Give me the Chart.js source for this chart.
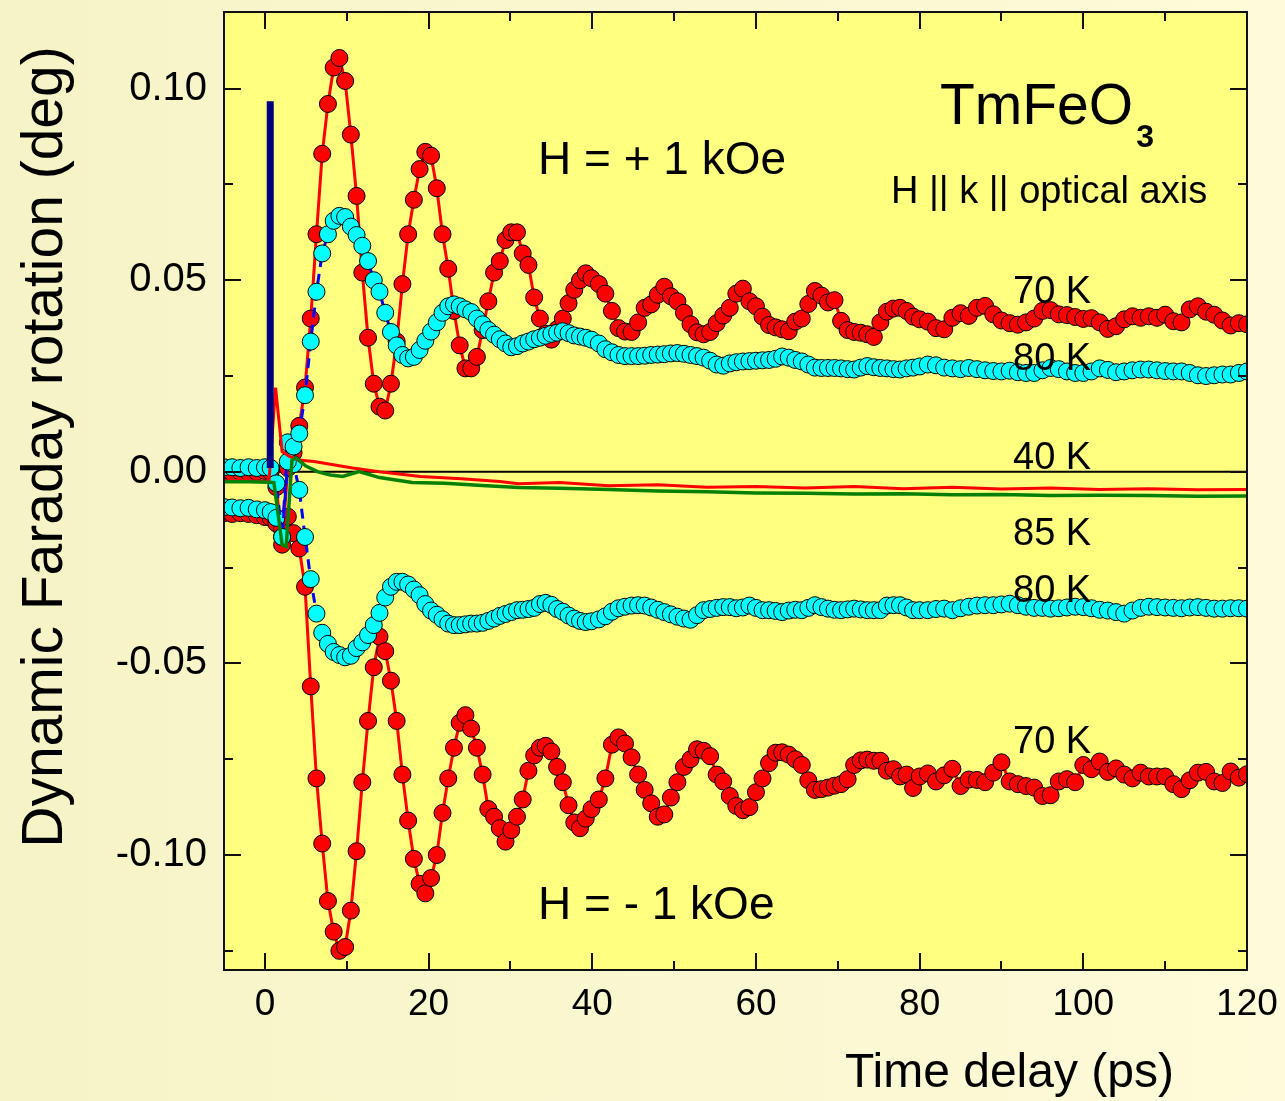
<!DOCTYPE html>
<html>
<head>
<meta charset="utf-8">
<title>TmFeO3 dynamic Faraday rotation</title>
<script src="https://cdn.jsdelivr.net/npm/chart.js@4.4.1/dist/chart.umd.min.js"></script>
<style>
  html, body { margin: 0; padding: 0; background: #f7f5c8; }
  #wrap { width: 1285px; height: 1101px; }
</style>
</head>
<body>
<div id="wrap"><canvas id="faraday" width="1285" height="1101"></canvas></div>
<script>
// time delay (ps) shared by the four dotted traces
const delay = [
  -5, -4, -3, -2, -1, 0,
  0.7, 1.4, 2.1, 2.8, 3.5, 4.2, 4.9, 5.6, 6.3, 7.0,
  7.7, 8.4, 9.1, 9.8, 10.5, 11.2, 11.9, 12.6, 13.3, 14.0,
  14.7, 15.4, 16.1, 16.8, 17.5, 18.2, 18.9, 19.6, 20.3, 21.0,
  21.7, 22.4, 23.1, 23.8, 24.5, 25.2, 25.9, 26.6, 27.3, 28.0,
  28.7, 29.4, 30.1, 30.8, 31.5, 32.2, 32.9, 33.6, 34.3, 35.0,
  35.7, 36.4, 37.1, 37.8, 38.5, 39.2, 39.9,
  40.8, 41.6, 42.4, 43.2, 44.0, 44.8, 45.6, 46.4, 47.2, 48.0,
  48.8, 49.6, 50.4, 51.2, 52.0, 52.8, 53.6, 54.4, 55.2, 56.0,
  56.8, 57.6, 58.4, 59.2, 60.0, 60.8, 61.6, 62.4, 63.2, 64.0,
  64.8, 65.6, 66.4, 67.2, 68.0, 68.8, 69.6, 70.4, 71.2, 72.0,
  72.8, 73.6, 74.4, 75.2, 76.0, 76.8, 77.6, 78.4, 79.2, 80.0,
  81, 82, 83, 84, 85, 86, 87, 88, 89, 90,
  91, 92, 93, 94, 95, 96, 97, 98, 99, 100,
  101, 102, 103, 104, 105, 106, 107, 108, 109, 110,
  111, 112, 113, 114, 115, 116, 117, 118, 119, 120
];

// 70 K, H = +1 kOe
const k70Plus = [
  0.0000, -0.0003, 0.0000, -0.0002, 0.0000, 0.0002,
  0.0000, -0.0040, -0.0190, 0.0010, 0.0050, 0.0120, 0.0220, 0.0400, 0.0620, 0.0830,
  0.0960, 0.1055, 0.1080, 0.1020, 0.0880, 0.0720, 0.0520, 0.0350, 0.0230, 0.0170,
  0.0160, 0.0230, 0.0340, 0.0490, 0.0620, 0.0710, 0.0790, 0.0835, 0.0825, 0.0740,
  0.0620, 0.0530, 0.0420, 0.0330, 0.0270, 0.0270, 0.0300, 0.0370, 0.0445, 0.0520,
  0.0550, 0.0605, 0.0625, 0.0625, 0.0570, 0.0540, 0.0455, 0.0400, 0.0360, 0.0345,
  0.0372, 0.0400, 0.0440, 0.0475, 0.0500, 0.0518, 0.0505,
  0.0490, 0.0465, 0.0420, 0.0375, 0.0366, 0.0365, 0.0390, 0.0428, 0.0437, 0.0462,
  0.0483, 0.0458, 0.0445, 0.0415, 0.0385, 0.0364, 0.0359, 0.0365, 0.0388, 0.0408,
  0.0428, 0.0465, 0.0478, 0.0445, 0.0432, 0.0405, 0.0383, 0.0377, 0.0372, 0.0367,
  0.0392, 0.0400, 0.0438, 0.0472, 0.0460, 0.0442, 0.0448, 0.0394, 0.0370, 0.0365,
  0.0363, 0.0359, 0.0352, 0.0390, 0.0418, 0.0426, 0.0428, 0.0420, 0.0405, 0.0398,
  0.0392, 0.0375, 0.0372, 0.0402, 0.0414, 0.0407, 0.0428, 0.0433, 0.0411, 0.0395,
  0.0388, 0.0384, 0.0390, 0.0400, 0.0420, 0.0422, 0.0411, 0.0409, 0.0404, 0.0399,
  0.0401, 0.0390, 0.0373, 0.0380, 0.0398, 0.0406, 0.0402, 0.0406, 0.0402, 0.0410,
  0.0393, 0.0390, 0.0424, 0.0432, 0.0418, 0.0410, 0.0395, 0.0382, 0.0388, 0.0385
];

// 80 K, H = +1 kOe
const k80Plus = [
  0.0012, 0.0012, 0.0010, 0.0012, 0.0010, 0.0012,
  0.0010, -0.0030, -0.0170, 0.0027, 0.0066, 0.0100, 0.0200, 0.0340, 0.0470, 0.0570,
  0.0620, 0.0655, 0.0668, 0.0665, 0.0640, 0.0618, 0.0590, 0.0550, 0.0500, 0.0470,
  0.0415, 0.0365, 0.0330, 0.0305, 0.0296, 0.0300, 0.0318, 0.0342, 0.0366, 0.0390,
  0.0415, 0.0432, 0.0437, 0.0432, 0.0424, 0.0417, 0.0400, 0.0385, 0.0370, 0.0358,
  0.0346, 0.0335, 0.0325, 0.0328, 0.0335, 0.0340, 0.0346, 0.0350, 0.0355, 0.0360,
  0.0363, 0.0367, 0.0362, 0.0356, 0.0353, 0.0350, 0.0345,
  0.0335, 0.0320, 0.0312, 0.0305, 0.0302, 0.0302, 0.0302, 0.0303, 0.0305, 0.0306,
  0.0307, 0.0309, 0.0310, 0.0308, 0.0305, 0.0302, 0.0298, 0.0290, 0.0280, 0.0277,
  0.0283, 0.0286, 0.0288, 0.0289, 0.0290, 0.0291, 0.0292, 0.0295, 0.0301, 0.0298,
  0.0292, 0.0288, 0.0280, 0.0272, 0.0271, 0.0271, 0.0271, 0.0270, 0.0268, 0.0267,
  0.0272, 0.0276, 0.0273, 0.0271, 0.0270, 0.0268, 0.0267, 0.0270, 0.0272, 0.0275,
  0.0280, 0.0278, 0.0272, 0.0270, 0.0268, 0.0271, 0.0268, 0.0265, 0.0263, 0.0262,
  0.0264, 0.0260, 0.0258, 0.0258, 0.0265, 0.0271, 0.0268, 0.0262, 0.0258, 0.0258,
  0.0262, 0.0270, 0.0266, 0.0260, 0.0262, 0.0265, 0.0267, 0.0267, 0.0265, 0.0263,
  0.0262, 0.0262, 0.0258, 0.0252, 0.0250, 0.0252, 0.0254, 0.0254, 0.0258, 0.0262
];

// 80 K, H = -1 kOe
const k80Minus = [
  -0.0092, -0.0093, -0.0095, -0.0094, -0.0098, -0.0100,
  -0.0105, -0.0120, -0.0170, 0.0077, 0.0020, -0.0047, -0.0170, -0.0280, -0.0370, -0.0420,
  -0.0449, -0.0470, -0.0478, -0.0484, -0.0480, -0.0460, -0.0445, -0.0426, -0.0400, -0.0368,
  -0.0328, -0.0300, -0.0287, -0.0287, -0.0294, -0.0307, -0.0322, -0.0345, -0.0362, -0.0373,
  -0.0385, -0.0396, -0.0400, -0.0400, -0.0398, -0.0396, -0.0396, -0.0394, -0.0389, -0.0383,
  -0.0376, -0.0371, -0.0366, -0.0361, -0.0360, -0.0358, -0.0355, -0.0345, -0.0342, -0.0347,
  -0.0358, -0.0365, -0.0375, -0.0383, -0.0389, -0.0392, -0.0390,
  -0.0385, -0.0377, -0.0365, -0.0356, -0.0352, -0.0349, -0.0348, -0.0349, -0.0354, -0.0360,
  -0.0366, -0.0372, -0.0378, -0.0383, -0.0386, -0.0374, -0.0361, -0.0358, -0.0355, -0.0353,
  -0.0353, -0.0356, -0.0354, -0.0349, -0.0355, -0.0361, -0.0361, -0.0363, -0.0366, -0.0362,
  -0.0360, -0.0361, -0.0355, -0.0348, -0.0353, -0.0357, -0.0360, -0.0361, -0.0359, -0.0357,
  -0.0359, -0.0361, -0.0361, -0.0361, -0.0349, -0.0348, -0.0348, -0.0354, -0.0361, -0.0361,
  -0.0361, -0.0358, -0.0357, -0.0361, -0.0356, -0.0352, -0.0349, -0.0348, -0.0348, -0.0346,
  -0.0344, -0.0348, -0.0352, -0.0355, -0.0355, -0.0357, -0.0356, -0.0354, -0.0352, -0.0353,
  -0.0356, -0.0360, -0.0362, -0.0366, -0.0370, -0.0362, -0.0355, -0.0352, -0.0353, -0.0354,
  -0.0355, -0.0356, -0.0354, -0.0353, -0.0355, -0.0357, -0.0357, -0.0356, -0.0356, -0.0357
];

// 70 K, H = -1 kOe
const k70Minus = [
  -0.0108, -0.0110, -0.0108, -0.0110, -0.0113, -0.0118,
  -0.0120, -0.0135, -0.0150, -0.0117, -0.0160, -0.0200, -0.0300, -0.0560, -0.0800, -0.0970,
  -0.1120, -0.1200, -0.1250, -0.1240, -0.1145, -0.0990, -0.0810, -0.0650, -0.0510, -0.0430,
  -0.0468, -0.0545, -0.0650, -0.0790, -0.0910, -0.1010, -0.1075, -0.1100, -0.1060, -0.1000,
  -0.0890, -0.0800, -0.0720, -0.0655, -0.0635, -0.0670, -0.0720, -0.0790, -0.0880, -0.0900,
  -0.0930, -0.0965, -0.0935, -0.0900, -0.0855, -0.0780, -0.0740, -0.0720, -0.0715, -0.0730,
  -0.0770, -0.0810, -0.0870, -0.0915, -0.0930, -0.0905, -0.0880,
  -0.0855, -0.0800, -0.0712, -0.0693, -0.0709, -0.0745, -0.0790, -0.0830, -0.0865, -0.0900,
  -0.0894, -0.0850, -0.0810, -0.0770, -0.0750, -0.0724, -0.0728, -0.0742, -0.0790, -0.0808,
  -0.0846, -0.0872, -0.0883, -0.0875, -0.0836, -0.0800, -0.0760, -0.0733, -0.0732, -0.0738,
  -0.0750, -0.0765, -0.0805, -0.0830, -0.0828, -0.0824, -0.0819, -0.0815, -0.0802, -0.0765,
  -0.0753, -0.0751, -0.0754, -0.0754, -0.0780, -0.0776, -0.0795, -0.0790, -0.0825, -0.0795,
  -0.0787, -0.0808, -0.0792, -0.0775, -0.0820, -0.0803, -0.0804, -0.0810, -0.0785, -0.0758,
  -0.0808, -0.0815, -0.0820, -0.0824, -0.0846, -0.0844, -0.0808, -0.0802, -0.0810, -0.0765,
  -0.0776, -0.0756, -0.0783, -0.0774, -0.0790, -0.0800, -0.0785, -0.0795, -0.0795, -0.0795,
  -0.0815, -0.0828, -0.0805, -0.0785, -0.0783, -0.0808, -0.0812, -0.0782, -0.0798, -0.0789
];

// 40 K trace (thin red line)
const k40Delay = [-5, -3, -1, 0.5, 1.3, 2.1, 3.0, 4.4, 6, 8, 10.7, 14, 19, 24, 28.7, 31,
  36, 42, 48, 54, 60, 66, 72, 78, 84, 90, 96, 102, 108, 114, 120];
const k40Values = [-0.0024, -0.0022, -0.0024, -0.0024, 0.0220, 0.0053, 0.0040, 0.0030, 0.0027,
  0.0020, 0.0010, 0.0000, -0.0012, -0.0018, -0.0025, -0.0031, -0.0028, -0.0036, -0.0034,
  -0.0040, -0.0038, -0.0042, -0.0038, -0.0044, -0.0040, -0.0045, -0.0042, -0.0046, -0.0044,
  -0.0047, -0.0046];

// 85 K trace (green line)
const k85Delay = [-5, -2, 0.5, 1.1, 2.1, 2.6, 3.3, 3.8, 5, 6.5, 8, 9.5, 11.5, 14, 18, 22, 26,
  31, 36, 42, 48, 54, 60, 66, 72, 78, 84, 90, 96, 102, 108, 114, 120];
const k85Values = [-0.0026, -0.0026, -0.0027, -0.0028, -0.0190, -0.0195, 0.0030, 0.0036,
  0.0015, 0.0000, -0.0008, -0.0012, 0.0001, -0.0015, -0.0028, -0.0030, -0.0035, -0.0041,
  -0.0043, -0.0046, -0.0050, -0.0052, -0.0055, -0.0056, -0.0058, -0.0057, -0.0060, -0.0059,
  -0.0062, -0.0061, -0.0062, -0.0064, -0.0063];

// pump pulse marker (navy bar)
const pumpDelay = [0.65, 0.65];
const pumpValues = [0.001, 0.0967];

// axis ticks
const xMajor = [0, 20, 40, 60, 80, 100, 120];
const xMinor = [10, 30, 50, 70, 90, 110];
const yMajor = [-0.10, -0.05, 0.00, 0.05, 0.10];
const yMinor = [-0.125, -0.075, -0.025, 0.025, 0.075];

// trace labels on the right
const traceLabels = ["70 K", "80 K", "40 K", "85 K", "80 K", "70 K"];
const traceLabelY = [303, 370, 469, 545, 602, 753];

const FONT = "'Liberation Sans', Arial, sans-serif";

function toPoints(xs, ys) {
  return xs.map((x, i) => ({ x: x, y: ys[i] }));
}

function dotted(label, values, fill, lineColor, dash) {
  return {
    label: label,
    data: toPoints(delay, values),
    showLine: true,
    borderColor: lineColor,
    borderWidth: 3,
    borderDash: dash,
    pointRadius: 8.5,
    pointBackgroundColor: fill,
    pointBorderColor: "#000000",
    pointBorderWidth: 1,
  };
}

const framePlugin = {
  id: "frame",
  beforeDraw(chart) {
    const ctx = chart.ctx;
    const area = chart.chartArea;
    const grad = ctx.createLinearGradient(0, 0, chart.width, 0);
    grad.addColorStop(0, "#f6f4c6");
    grad.addColorStop(1, "#fdfbd9");
    ctx.save();
    ctx.fillStyle = grad;
    ctx.fillRect(0, 0, chart.width, chart.height);
    ctx.fillStyle = "#ffff80";
    ctx.fillRect(area.left, area.top, area.right - area.left, area.bottom - area.top);
    ctx.restore();
  },
  afterDraw(chart) {
    const ctx = chart.ctx;
    const area = chart.chartArea;
    const xs = chart.scales.x;
    const ys = chart.scales.y;

    ctx.save();
    ctx.strokeStyle = "#111111";
    ctx.lineWidth = 2;
    ctx.strokeRect(area.left, area.top, area.right - area.left, area.bottom - area.top);

    ctx.beginPath();
    const tick = (len, vals, horizontal) => {
      vals.forEach((v) => {
        if (horizontal) {
          const px = Math.round(xs.getPixelForValue(v));
          ctx.moveTo(px, area.bottom);
          ctx.lineTo(px, area.bottom - len);
          ctx.moveTo(px, area.top);
          ctx.lineTo(px, area.top + len);
        } else {
          const py = Math.round(ys.getPixelForValue(v));
          ctx.moveTo(area.left, py);
          ctx.lineTo(area.left + len, py);
          ctx.moveTo(area.right, py);
          ctx.lineTo(area.right - len, py);
        }
      });
    };
    tick(17, xMajor, true);
    tick(9, xMinor, true);
    tick(17, yMajor, false);
    tick(9, yMinor, false);
    ctx.stroke();

    ctx.fillStyle = "#000000";
    ctx.textBaseline = "alphabetic";
    ctx.textAlign = "left";

    // axis titles
    ctx.font = "48px " + FONT;
    ctx.fillText("Time delay (ps)", 845, 1087);
    ctx.save();
    ctx.translate(62, 447);
    ctx.rotate(-Math.PI / 2);
    ctx.textAlign = "center";
    ctx.font = "57px " + FONT;
    ctx.fillText("Dynamic Faraday rotation (deg)", 0, 0);
    ctx.restore();

    // sample and geometry
    ctx.font = "57px " + FONT;
    ctx.fillText("TmFeO", 940, 124);
    const w = ctx.measureText("TmFeO").width;
    ctx.font = "bold 32px " + FONT;
    ctx.fillText("3", 940 + w + 3, 147);
    ctx.font = "38px " + FONT;
    ctx.fillText("H || k || optical axis", 891, 203);

    ctx.font = "46px " + FONT;
    ctx.fillText("H = + 1 kOe", 538, 174);
    ctx.fillText("H = - 1 kOe", 538, 919);

    ctx.font = "38px " + FONT;
    traceLabels.forEach((t, i) => {
      ctx.fillText(t, 1013, traceLabelY[i]);
    });
    ctx.restore();
  },
};

const chart = new Chart(document.getElementById("faraday"), {
  type: "scatter",
  data: {
    datasets: [
      {
        label: "pump",
        data: toPoints(pumpDelay, pumpValues),
        showLine: true,
        borderColor: "#000080",
        borderWidth: 7,
        pointRadius: 0,
      },
      {
        label: "85 K",
        data: toPoints(k85Delay, k85Values),
        showLine: true,
        borderColor: "#078007",
        borderWidth: 3.5,
        pointRadius: 0,
      },
      {
        label: "40 K",
        data: toPoints(k40Delay, k40Values),
        showLine: true,
        borderColor: "#ff0000",
        borderWidth: 3,
        pointRadius: 0,
      },
      dotted("80 K +", k80Plus, "#00ffff", "#0000ff", [10, 7]),
      dotted("80 K -", k80Minus, "#00ffff", "#0000ff", [10, 7]),
      dotted("70 K +", k70Plus, "#ff0000", "#ff0000", []),
      dotted("70 K -", k70Minus, "#ff0000", "#ff0000", []),
      {
        label: "zero",
        data: [{ x: -5, y: 0 }, { x: 120, y: 0 }],
        showLine: true,
        borderColor: "#000000",
        borderWidth: 2,
        pointRadius: 0,
      },
    ],
  },
  options: {
    responsive: false,
    devicePixelRatio: 1,
    animation: false,
    layout: { autoPadding: false, padding: { left: 0, right: 38, top: 12, bottom: 0 } },
    plugins: {
      legend: { display: false },
      tooltip: { enabled: false },
    },
    scales: {
      x: {
        type: "linear",
        min: -5,
        max: 120,
        grid: { display: false, drawTicks: false },
        border: { display: false },
        ticks: {
          padding: 13,
          color: "#000000",
          font: { family: FONT, size: 37 },
          maxRotation: 0,
          autoSkip: false,
        },
        afterBuildTicks(scale) {
          scale.ticks = xMajor.map((v) => ({ value: v }));
        },
        afterFit(scale) {
          scale.height = 131;
          scale.paddingLeft = 0;
          scale.paddingRight = 0;
        },
      },
      y: {
        type: "linear",
        min: -0.13,
        max: 0.12,
        grid: { display: false, drawTicks: false },
        border: { display: false },
        ticks: {
          padding: 17,
          color: "#000000",
          font: { family: FONT, size: 40 },
          autoSkip: false,
          callback: (v) => v.toFixed(2),
        },
        afterBuildTicks(scale) {
          scale.ticks = yMajor.map((v) => ({ value: v }));
        },
        afterFit(scale) {
          scale.width = 224;
          scale.paddingTop = 0;
          scale.paddingBottom = 0;
        },
      },
    },
  },
  plugins: [framePlugin],
});
</script>
</body>
</html>
